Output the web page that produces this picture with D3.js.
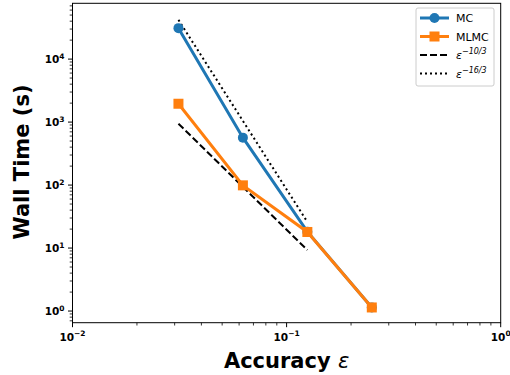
<!DOCTYPE html>
<html>
<head>
<meta charset="utf-8">
<script src="https://cdn.jsdelivr.net/npm/d3@7"></script>
<style>
  body { margin: 0; background: #fff; }
  svg { font-family: "DejaVu Sans", sans-serif; }
</style>
</head>
<body>
<div id="chart"></div>
<script>
// accuracy levels
const epsilons = [0.03125, 0.0625, 0.125, 0.25];
const mcTimes = [31000, 566, 18.2, 1.14];
const mlmcTimes = [1955, 99, 18, 1.14];
// reference slopes, endpoints
const refEps = [0.03125, 0.125];
const ref103 = [944, 9.3];
const ref163 = [42000, 26];
const xMajor = [-2, -1, 0];
const yMajor = [0, 1, 2, 3, 4];

const width = 510, height = 375;
const margin = { top: 3.3, right: 9.3, bottom: 52.3, left: 72.5 };

const svg = d3.select('#chart').append('svg')
    .attr('width', width)
    .attr('height', height);

const x = d3.scaleLog()
    .domain([0.01, 1])
    .range([margin.left, width - margin.right]);

const y = d3.scaleLog()
    .domain([0.653, 76900])
    .range([height - margin.bottom, margin.top]);

const isMajor = v => Math.abs(Math.log10(v) - Math.round(Math.log10(v))) < 1e-9;

// x ticks
const xTicks = x.ticks();
const xAxisG = svg.append('g');
xAxisG.selectAll('line')
    .data(xTicks)
    .enter()
    .append('line')
    .attr('x1', d => x(d)).attr('x2', d => x(d))
    .attr('y1', y.range()[0])
    .attr('y2', d => y.range()[0] + (isMajor(d) ? 4.5 : 2.8))
    .attr('stroke', '#000')
    .attr('stroke-width', d => isMajor(d) ? 1 : 0.8);

xAxisG.selectAll('text')
    .data(xMajor)
    .enter()
    .append('text')
    .attr('x', d => x(Math.pow(10, d)))
    .attr('y', y.range()[0] + 18)
    .attr('text-anchor', 'middle')
    .attr('font-size', 10.5)
    .attr('font-weight', 'bold')
    .each(function(d) {
        const t = d3.select(this);
        t.append('tspan').text('10');
        t.append('tspan').attr('dy', -4.5).attr('font-size', 7.5).text(d < 0 ? '\u2212' + (-d) : d);
    });

// y ticks
const yTicks = y.ticks();
const yAxisG = svg.append('g');
yAxisG.selectAll('line')
    .data(yTicks)
    .enter()
    .append('line')
    .attr('y1', d => y(d)).attr('y2', d => y(d))
    .attr('x1', x.range()[0])
    .attr('x2', d => x.range()[0] - (isMajor(d) ? 4.5 : 2.8))
    .attr('stroke', '#000')
    .attr('stroke-width', d => isMajor(d) ? 1 : 0.8);

yAxisG.selectAll('text')
    .data(yMajor)
    .enter()
    .append('text')
    .attr('x', x.range()[0] - 8)
    .attr('y', d => y(Math.pow(10, d)) + 4)
    .attr('text-anchor', 'end')
    .attr('font-size', 10.5)
    .attr('font-weight', 'bold')
    .each(function(d) {
        const t = d3.select(this);
        t.append('tspan').text('10');
        t.append('tspan').attr('dy', -4.5).attr('font-size', 7.5).text(d);
    });

// frame
svg.append('rect')
    .attr('x', x.range()[0])
    .attr('y', y.range()[1])
    .attr('width', x.range()[1] - x.range()[0])
    .attr('height', y.range()[0] - y.range()[1])
    .attr('fill', 'none')
    .attr('stroke', '#000')
    .attr('stroke-width', 1);

const line = d3.line()
    .x(d => x(d[0]))
    .y(d => y(d[1]));

// reference lines
svg.append('path')
    .datum(d3.zip(refEps, ref103))
    .attr('fill', 'none')
    .attr('stroke', '#000')
    .attr('stroke-width', 2)
    .attr('stroke-dasharray', '7,3')
    .attr('d', line);

svg.append('path')
    .datum(d3.zip(refEps, ref163))
    .attr('fill', 'none')
    .attr('stroke', '#000')
    .attr('stroke-width', 2)
    .attr('stroke-dasharray', '2,3')
    .attr('d', line);

// MC
svg.append('path')
    .datum(d3.zip(epsilons, mcTimes))
    .attr('fill', 'none')
    .attr('stroke', '#1f77b4')
    .attr('stroke-width', 3)
    .attr('d', line);

svg.selectAll('.mc-dot')
    .data(d3.zip(epsilons, mcTimes))
    .enter()
    .append('circle')
    .attr('class', 'mc-dot')
    .attr('cx', d => x(d[0]))
    .attr('cy', d => y(d[1]))
    .attr('r', 5)
    .style('fill', '#1f77b4');

// MLMC
svg.append('path')
    .datum(d3.zip(epsilons, mlmcTimes))
    .attr('fill', 'none')
    .attr('stroke', '#ff7f0e')
    .attr('stroke-width', 3)
    .attr('d', line);

svg.selectAll('.mlmc-sq')
    .data(d3.zip(epsilons, mlmcTimes))
    .enter()
    .append('rect')
    .attr('class', 'mlmc-sq')
    .attr('x', d => x(d[0]) - 5)
    .attr('y', d => y(d[1]) - 5)
    .attr('width', 10)
    .attr('height', 10)
    .style('fill', '#ff7f0e');

// axis labels
svg.append('text')
    .attr('x', (x.range()[0] + x.range()[1]) / 2)
    .attr('y', 368)
    .attr('text-anchor', 'middle')
    .attr('font-size', 21)
    .attr('font-weight', 'bold')
    .each(function() {
        const t = d3.select(this);
        t.append('tspan').text('Accuracy ');
        t.append('tspan').attr('font-weight', 'normal').attr('font-style', 'italic').text('\u03b5');
    });

svg.append('text')
    .attr('transform', 'rotate(-90)')
    .attr('x', -162)
    .attr('y', 29)
    .attr('text-anchor', 'middle')
    .attr('font-size', 21)
    .attr('font-weight', 'bold')
    .text('Wall Time (s)');

// legend
const legend = svg.append('g').attr('transform', 'translate(416,8)');
legend.append('rect')
    .attr('width', 78).attr('height', 78)
    .attr('rx', 2)
    .attr('fill', '#fff')
    .attr('stroke', '#ccc')
    .attr('stroke-width', 1);

const legendItems = [
    { label: 'MC', color: '#1f77b4', marker: 'circle', dash: null, w: 3 },
    { label: 'MLMC', color: '#ff7f0e', marker: 'square', dash: null, w: 3 },
    { label: '\u03b5', sup: '\u221210/3', color: '#000', marker: null, dash: '7,3', w: 2 },
    { label: '\u03b5', sup: '\u221216/3', color: '#000', marker: null, dash: '2,3', w: 2 }
];

legendItems.forEach((item, i) => {
    const gy = 10 + i * 18.5;
    const g = legend.append('g');
    g.append('line')
        .attr('x1', 4).attr('x2', 33)
        .attr('y1', gy).attr('y2', gy)
        .attr('stroke', item.color)
        .attr('stroke-width', item.w)
        .attr('stroke-dasharray', item.dash);
    if (item.marker === 'circle') {
        g.append('circle').attr('cx', 18.5).attr('cy', gy).attr('r', 5).attr('fill', item.color);
    } else if (item.marker === 'square') {
        g.append('rect').attr('x', 13.5).attr('y', gy - 5).attr('width', 10).attr('height', 10).attr('fill', item.color);
    }
    const t = g.append('text')
        .attr('x', 40)
        .attr('y', gy + 4)
        .attr('font-size', 11);
    if (item.sup) {
        t.append('tspan').attr('font-style', 'italic').text(item.label);
        t.append('tspan').attr('dy', -5).attr('font-size', 8).attr('font-style', 'italic').text(item.sup);
    } else {
        t.text(item.label);
    }
});
</script>
</body>
</html>
